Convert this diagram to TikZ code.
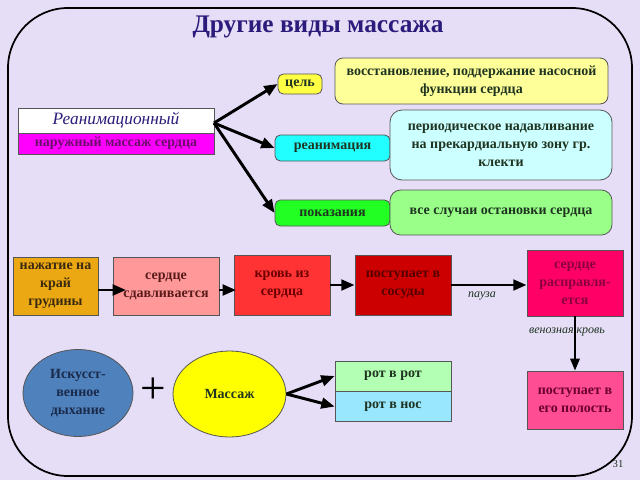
\documentclass[tikz,border=0pt]{standalone}
\usepackage{fontspec}
\setmainfont{Liberation Serif}
\newfontfamily\tms{Liberation Serif}
\usetikzlibrary{arrows.meta,shapes.geometric}
\definecolor{bgc}{HTML}{E6DEF7}
\definecolor{titlec}{HTML}{2B1B7B}
\definecolor{dtext}{HTML}{1E3320}
\definecolor{yel1}{HTML}{FFFF44}
\definecolor{yel2}{HTML}{FFFF99}
\definecolor{cya1}{HTML}{22FFFF}
\definecolor{cya2}{HTML}{CCFFFF}
\definecolor{gre1}{HTML}{22FF22}
\definecolor{gre2}{HTML}{99FF88}
\definecolor{mag}{HTML}{FF00FF}
\definecolor{magt}{HTML}{6B0F6B}
\definecolor{ora}{HTML}{EBA812}
\definecolor{orat}{HTML}{3A2A10}
\definecolor{sal}{HTML}{FF9999}
\definecolor{salt}{HTML}{5A1A1A}
\definecolor{red1}{HTML}{FF3333}
\definecolor{red1t}{HTML}{6B0000}
\definecolor{red2}{HTML}{CC0000}
\definecolor{red2t}{HTML}{550000}
\definecolor{hpink}{HTML}{FF0066}
\definecolor{hpinkt}{HTML}{8B0040}
\definecolor{pink2}{HTML}{FF4D94}
\definecolor{pink2t}{HTML}{6B0030}
\definecolor{sblue}{HTML}{4F81BD}
\definecolor{sbluet}{HTML}{1A2A4A}
\definecolor{ell2}{HTML}{FFFF00}
\definecolor{rr1}{HTML}{B3FFB3}
\definecolor{rr2}{HTML}{99E6FF}
\definecolor{bord}{HTML}{555555}
\tikzset{
  boxtext/.style={font=\tms\bfseries\fontsize{10.5}{13.5}\selectfont, align=center, inner sep=0pt},
  rbox/.style={boxtext, draw=bord, line width=0.6pt, rounded corners=4pt, text=dtext},
  sbox/.style={boxtext, draw=bord, line width=0.6pt},
  ell/.style={ellipse, draw=bord, line width=0.6pt, boxtext, inner sep=0pt},
  arr/.style={line width=2.2pt, -{Triangle[length=10pt,width=8pt]}},
  arrt/.style={line width=1.6pt, -{Triangle[length=9pt,width=7pt]}},
  lbl/.style={font=\tms\itshape\fontsize{9}{10}\selectfont, text=dtext}
}
\begin{document}
\begin{tikzpicture}[x=0.75pt,y=-0.75pt]
\useasboundingbox (0,0) rectangle (640,480);
\fill[bgc] (0,0) rectangle (640,480);
\draw[line width=1.3pt, rounded corners=45pt] (8,8) rectangle (632,476);

\node[font=\tms\bfseries\fontsize{19}{22}\selectfont, text=titlec] (title) at (318,27) {Другие виды массажа};

% top section
\node[rbox, fill=yel1, minimum width=33pt, minimum height=15pt] (cel) at (300,84) {цель};
\node[rbox, fill=yel2, minimum width=204.75pt, minimum height=34.5pt, rounded corners=6pt] (vos) at (471.5,81) {восстановление, поддержание насосной\\функции сердца};
\node[sbox, fill=white, minimum width=147pt, minimum height=18.75pt, font=\tms\itshape\fontsize{13}{15}\selectfont, text=titlec] (rea) at (116,120.5) {Реанимационный};
\node[sbox, fill=mag, minimum width=147pt, minimum height=15.75pt, text=magt] (nar) at (116,143.5) {наружный массаж сердца};
\node[rbox, fill=cya1, minimum width=86.25pt, minimum height=19.5pt] (rcy) at (332.5,148) {реанимация};
\node[rbox, fill=cya2, minimum width=166.5pt, minimum height=52.5pt, rounded corners=9pt] (per) at (501,145) {периодическое надавливание\\на прекардиальную зону гр.\\клекти};
\node[rbox, fill=gre1, minimum width=86.25pt, minimum height=19.5pt] (pok) at (332.5,213) {показания};
\node[rbox, fill=gre2, minimum width=166.5pt, minimum height=33.75pt, rounded corners=8pt] (vse) at (501,212.5) {все случаи остановки сердца};

\coordinate (rstart) at (214,123);
\draw[arr] (rstart) -- (cel.west);
\draw[arr] (rstart) -- (rcy.west);
\draw[arr] (rstart) -- (pok.west);

% middle row
\node[sbox, fill=ora, text=orat, minimum width=63.75pt, minimum height=43.5pt] (naz) at (55.5,286) {нажатие на\\край\\грудины};
\node[sbox, fill=sal, text=salt, minimum width=79.5pt, minimum height=43.5pt] (sda) at (166,286) {сердце\\сдавливается};
\node[sbox, fill=red1, text=red1t, minimum width=72pt, minimum height=45pt] (kro) at (282,285) {кровь из\\сердца};
\node[sbox, fill=red2, text=red2t, minimum width=72pt, minimum height=45pt] (pos) at (403,285) {поступает в\\сосуды};
\node[sbox, fill=hpink, text=hpinkt, minimum width=72pt, minimum height=49.5pt] (ras) at (575,283) {сердце\\расправля-\\ется};
\node[sbox, fill=pink2, text=pink2t, minimum width=72pt, minimum height=43.5pt] (pol) at (575,400) {поступает в\\его полость};

\coordinate (a1) at (126,290);
\coordinate (a2) at (236,290);
\draw[arr] (naz.east |- a1) -- (a1);
\draw[arr] (sda.east |- a2) -- (a2);
\draw[arr] (kro.east |- 0,285) -- (pos.west |- 0,285);
\draw[arr] (pos.east |- 0,285) -- (ras.west |- 0,285);
\node[lbl] (pauza) at (482,296) {пауза};
\node[lbl] (ven) at (567,332) {венозная кровь};
\draw[arrt] (ras.south) -- (pol.north);

% bottom row
\node[ell, fill=sblue, text=sbluet, minimum width=82.5pt, minimum height=65.25pt] (isk) at (78,393) {Искусст-\\венное\\дыхание};
\node[font=\tms\fontsize{34}{34}\selectfont, inner sep=0pt] (plus) at (153,391) {+};
\node[ell, fill=ell2, text=dtext, minimum width=84.75pt, minimum height=64.5pt] (mas) at (229.5,394) {Массаж};
\node[sbox, fill=rr1, text=dtext, minimum width=87pt, minimum height=22.5pt] (rr) at (393,376) {рот в рот};
\node[sbox, fill=rr2, text=dtext, minimum width=87pt, minimum height=22.5pt] (rn) at (393,406.5) {рот в нос};
\draw[arr] (mas.east) -- (rr.west);
\draw[arr] (mas.east) -- (rn.west);

\node[font=\tms\fontsize{8}{9}\selectfont, text=dtext] (num) at (618,464) {31};
\end{tikzpicture}
\end{document}
